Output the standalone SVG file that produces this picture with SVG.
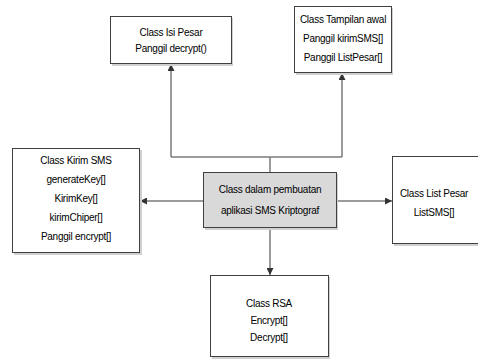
<svg xmlns="http://www.w3.org/2000/svg" width="478" height="359" viewBox="0 0 478 359">
<defs>
<marker id="ah" viewBox="0 0 10 10" refX="10" refY="5" markerWidth="7" markerHeight="7" markerUnits="userSpaceOnUse" orient="auto">
<path d="M0,0 L10,5 L0,10 z" fill="#333"/>
</marker>
</defs>
<style>
.box{fill:#ffffff;stroke:#404040;stroke-width:1}
.gray{fill:#d9d9d9;stroke:#404040;stroke-width:1}
.sh{fill:#d0d0d0;stroke:none}
.t{font-family:"Liberation Sans",Arial,sans-serif;font-size:10px;letter-spacing:-0.25px;fill:#000;text-anchor:middle}
.c{fill:none;stroke:#7a7a7a;stroke-width:1.5}
</style>
<rect width="478" height="359" fill="#ffffff"/>
<g id="connectors">
<path class="c" d="M270,172 V157"/>
<path class="c" d="M171,157 H342"/>
<path class="c" d="M171,157 V64" marker-end="url(#ah)"/>
<path class="c" d="M342,157 V73" marker-end="url(#ah)"/>
<path class="c" d="M203,201 H140" marker-end="url(#ah)"/>
<path class="c" d="M336,201 H392" marker-end="url(#ah)"/>
<path class="c" d="M270,228 V275" marker-end="url(#ah)"/>
</g>
<g id="isi-pesar">
<rect class="sh" x="112" y="18" width="121" height="48"/>
<rect class="box" x="110.5" y="16.5" width="121" height="47"/>
<text class="t" x="171" y="36">Class Isi Pesar</text>
<text class="t" x="171" y="52">Panggil decrypt()</text>
</g>
<g id="tampilan-awal">
<rect class="sh" x="296" y="8" width="97" height="67"/>
<rect class="box" x="294.5" y="6.5" width="97" height="66"/>
<text class="t" x="343" y="23">Class Tampilan awal</text>
<text class="t" x="343" y="42">Panggil kirimSMS[]</text>
<text class="t" x="343" y="61">Panggil ListPesar[]</text>
</g>
<g id="kirim-sms">
<rect class="sh" x="14" y="150" width="128" height="105"/>
<rect class="box" x="12.5" y="148.5" width="127" height="104"/>
<text class="t" x="76" y="164">Class Kirim SMS</text>
<text class="t" x="76" y="183">generateKey[]</text>
<text class="t" x="76" y="202">KirimKey[]</text>
<text class="t" x="76" y="221">kirimChiper[]</text>
<text class="t" x="76" y="240">Panggil encrypt[]</text>
</g>
<g id="main">
<rect class="sh" x="205" y="174" width="133" height="56"/>
<rect class="gray" x="203.5" y="172.5" width="133" height="55"/>
<text class="t" x="270" y="193">Class dalam pembuatan</text>
<text class="t" x="270" y="214">aplikasi SMS Kriptograf</text>
</g>
<g id="list-pesar">
<rect class="sh" x="394" y="158" width="90" height="88"/>
<rect class="box" x="392.5" y="156.5" width="90" height="87"/>
<text class="t" x="434" y="197">Class List Pesar</text>
<text class="t" x="434" y="216">ListSMS[]</text>
</g>
<g id="rsa">
<rect class="sh" x="212" y="277" width="118" height="82"/>
<rect class="box" x="210.5" y="275.5" width="118" height="81"/>
<text class="t" x="269" y="307">Class RSA</text>
<text class="t" x="269" y="324">Encrypt[]</text>
<text class="t" x="269" y="341">Decrypt[]</text>
</g>
</svg>
